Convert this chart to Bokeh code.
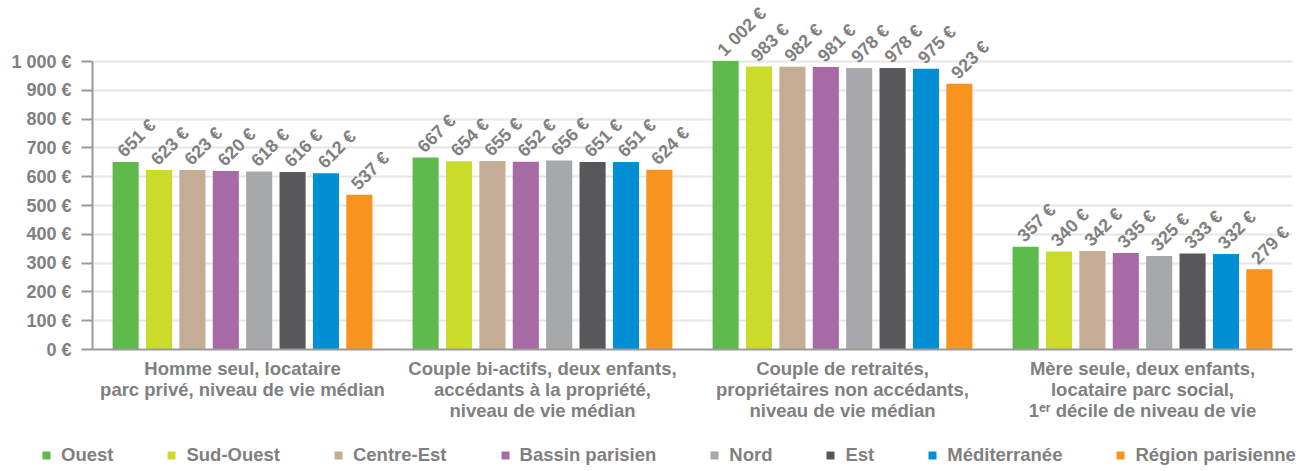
import math
from bokeh.plotting import figure
from bokeh.layouts import column
from bokeh.models import (ColumnDataSource, FactorRange, Range1d, FixedTicker,
                          LabelSet, Legend, LegendItem)
from bokeh.core.properties import value
from bokeh.transform import dodge
from bokeh.embed import file_html
from bokeh.resources import INLINE

categories = [
    "Homme seul, locataire\nparc privé, niveau de vie médian",
    "Couple bi-actifs, deux enfants,\naccédants à la propriété,\nniveau de vie médian",
    "Couple de retraités,\npropriétaires non accédants,\nniveau de vie médian",
    "Mère seule, deux enfants,\nlocataire parc social,\n1ᵉʳ décile de niveau de vie",
]
regions = ["Ouest", "Sud-Ouest", "Centre-Est", "Bassin parisien", "Nord", "Est",
           "Méditerranée", "Région parisienne"]
colors = ["#5fba4c", "#cbdb2a", "#c4ad94", "#a86aa4", "#a6a8a9", "#58585a",
          "#008fd5", "#f7931e"]

ouest = [651, 667, 1002, 357]
sud_ouest = [623, 654, 983, 340]
centre_est = [623, 655, 982, 342]
bassin_parisien = [620, 652, 981, 335]
nord = [618, 656, 978, 325]
est = [616, 651, 978, 333]
mediterranee = [612, 651, 975, 332]
region_parisienne = [537, 624, 923, 279]
series = [ouest, sud_ouest, centre_est, bassin_parisien, nord, est,
          mediterranee, region_parisienne]

y_ticks = [0, 100, 200, 300, 400, 500, 600, 700, 800, 900, 1000]
y_tick_labels = ["0 €", "100 €", "200 €", "300 €", "400 €", "500 €", "600 €",
                 "700 €", "800 €", "900 €", "1 000 €"]

FONT = "Liberation Sans"
GREY = "#808080"

def fmt(v):
    return "{:,}".format(v).replace(",", " ") + " €"

p = figure(width=1300, height=432, x_range=FactorRange(*categories, range_padding=0),
           y_range=Range1d(0, 1212), output_backend="svg", toolbar_location=None,
           min_border_left=92, min_border_right=8, min_border_top=0, min_border_bottom=83)
p.x_range.factor_padding = 0
p.outline_line_color = None

pitch = 0.1113
width = 0.087
sources = []
for i, (name, vals, col) in enumerate(zip(regions, series, colors)):
    src = ColumnDataSource(dict(cat=categories, val=vals, lab=[fmt(v) for v in vals]))
    sources.append(src)
    off = (i - 3.5) * pitch
    p.vbar(x=dodge("cat", off, range=p.x_range), top="val", width=width,
           source=src, fill_color=col, line_color=None)
    ls = LabelSet(x=dodge("cat", off, range=p.x_range), y="val", text="lab",
                  source=src, angle=math.pi / 4, text_align="left",
                  text_baseline="middle", x_offset=-5, y_offset=8,
                  text_font=value(FONT), text_font_style="bold",
                  text_font_size="18px", text_color=GREY)
    p.add_layout(ls)

# y axis
p.yaxis.ticker = FixedTicker(ticks=y_ticks)
p.yaxis.bounds = (0, 1000)
p.yaxis.major_label_overrides = {t: l for t, l in zip(y_ticks, y_tick_labels)}
p.yaxis.major_label_text_font = FONT
p.yaxis.major_label_text_font_style = "bold"
p.yaxis.major_label_text_font_size = "18px"
p.yaxis.major_label_text_color = GREY
p.yaxis.axis_line_color = "#999999"
p.yaxis.axis_line_width = 2
p.yaxis.major_tick_line_color = "#999999"
p.yaxis.major_tick_line_width = 2
p.yaxis.major_tick_out = 11
p.yaxis.major_tick_in = 0
p.yaxis.minor_tick_line_color = None
p.yaxis.major_label_standoff = 10

# x axis (multi-line category labels)
p.xaxis.major_label_text_font = FONT
p.xaxis.major_label_text_font_style = "bold"
p.xaxis.major_label_text_font_size = "18.5px"
p.xaxis.major_label_text_color = GREY
p.xaxis.major_label_text_line_height = 1.0
p.xaxis.major_label_orientation = "horizontal"
p.xaxis.axis_line_color = "#999999"
p.xaxis.axis_line_width = 2
p.xaxis.major_tick_line_color = None
p.xaxis.major_tick_out = 0
p.xaxis.major_tick_in = 0
p.xaxis.major_label_standoff = 8

p.xgrid.grid_line_color = None
p.ygrid.grid_line_color = "#e6e6e6"
p.ygrid.grid_line_width = 2
p.ygrid.ticker = FixedTicker(ticks=y_ticks)

# legend strip (same series, drawn out of view so only the legend shows)
p2 = figure(width=1300, height=36, x_range=FactorRange(*categories, range_padding=0),
            y_range=Range1d(5000, 5100), output_backend="svg", toolbar_location=None,
            x_axis_location=None, y_axis_location=None,
            min_border_left=0, min_border_right=0, min_border_top=0, min_border_bottom=0)
p2.outline_line_color = None
p2.grid.grid_line_color = None
items = []
for i, (name, src, col) in enumerate(zip(regions, sources, colors)):
    r = p2.vbar(x=dodge("cat", (i - 3.5) * pitch, range=p2.x_range), top="val",
                width=width, source=src, fill_color=col, line_color=None)
    items.append(LegendItem(label=name, renderers=[r]))

if "frame_align" in p2.properties():
    p2.frame_align = False
    p.frame_align = False
    leg_x = 41
else:
    leg_x = 41 - 92

legend = Legend(items=items, orientation="horizontal", location=(leg_x, 2),
                spacing=53, glyph_width=10, glyph_height=10, label_standoff=10,
                padding=0, margin=0, border_line_color=None,
                background_fill_alpha=0,
                label_text_font=FONT, label_text_font_style="bold",
                label_text_font_size="18.5px", label_text_color=GREY)
p2.add_layout(legend)

layout = column(p, p2, spacing=0)
open("out.html", "w").write(file_html(layout, INLINE))
